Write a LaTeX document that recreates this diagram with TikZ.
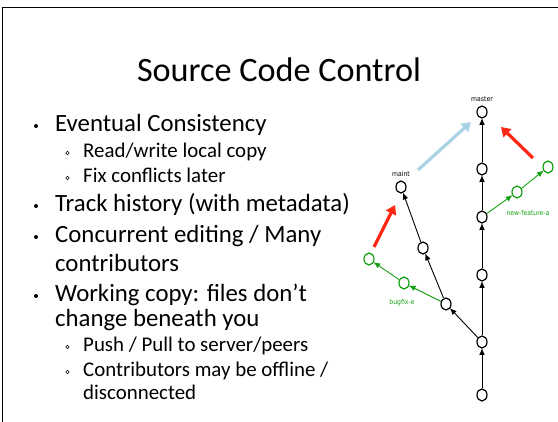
\documentclass[tikz,border=0pt]{standalone}
\usepackage{fontspec}
\setmainfont{Carlito}
\newfontfamily\labfont{DejaVu Sans Condensed}
\usetikzlibrary{arrows.meta,positioning,shapes.geometric}
\definecolor{gitgreen}{RGB}{20,160,20}
\definecolor{mergered}{RGB}{255,40,20}
\definecolor{pushblue}{RGB}{170,212,228}
\tikzset{
  >={Latex[length=2.4mm,width=2mm]},
  commit/.style={draw,ellipse,line width=1.2pt,minimum width=10pt,minimum height=12pt,inner sep=0pt,fill=white},
  gcommit/.style={commit,draw=gitgreen},
  hist/.style={->,line width=0.9pt,shorten >=-0.5pt},
  ghist/.style={hist,draw=gitgreen,-{Latex[length=2.4mm,width=2mm,color=gitgreen]}},
  fatarr/.style={line width=3.2pt,-{Triangle[length=9pt,width=11pt]}},
  lab/.style={font=\labfont\fontsize{6.8}{7}\selectfont,inner sep=0pt},
  main/.style={anchor=base west,inner sep=0pt,font=\fontsize{24.8}{26}\selectfont},
  sub/.style={anchor=base west,inner sep=0pt,font=\fontsize{20.9}{22}\selectfont},
}
\begin{document}
\begin{tikzpicture}[x=1pt,y=-1pt]
\useasboundingbox (0,0) rectangle (558,422);
% slide frame
\draw[line width=1.4pt] (2.7,422) -- (2.7,7.5) -- (558,7.5);
\node[font=\fontsize{34.2}{36}\selectfont] (title) at (279,70) {Source Code Control};
% bullet list
\node[main] (b1) at (55,132) {Eventual Consistency};
\node[sub] (b1a) at (83,158) {Read/write local copy};
\node[sub] (b1b) at (83,183) {Fix conflicts later};
\node[main] (b2) at (55,212) {Track history (with metadata)};
\node[main] (b3) at (55,243) {Concurrent editing / Many};
\node[main] (b3x) at (55,272) {contributors};
\node[main] (b4) at (55,302) {Working copy: files don’t};
\node[main] (b4x) at (55,327) {change beneath you};
\node[sub] (b4a) at (83,352) {Push / Pull to server/peers};
\node[sub] (b4b) at (83,377) {Contributors may be offline /};
\node[sub] (b4x) at (83,400) {disconnected};
\foreach \y in {126,206,237,296} \fill (36,\y) circle (2pt);
\foreach \y in {153,178,347,372} \draw[line width=0.5pt] (67.5,\y) circle (1.7pt);
% history graph
\node[commit] (m0) at (482,395) {};
\node[commit] (m1) at (482,342) {};
\node[commit] (m2) at (482,275) {};
\node[commit] (m3) at (482,217) {};
\node[commit] (m4) at (482,169) {};
\node[commit] (master) at (482,112) {};
\node[lab,above=4pt of master] (masterl) {master};
\node[commit] (br) at (446,304) {};
\node[commit] (c1) at (423,248) {};
\node[commit] (maint) at (401,187) {};
\node[lab,above=4pt of maint] (maintl) {maint};
\node[gcommit] (e1) at (404,283) {};
\node[gcommit] (e2) at (369,259) {};
\node[lab,text=gitgreen] (bugl) at (402,303) {bugfix-e};
\node[gcommit] (f1) at (517,192) {};
\node[gcommit] (f2) at (548,167) {};
\node[lab,text=gitgreen] (featl) at (528,213) {new-feature-a};
\draw[hist] (m0) -- (m1);
\draw[hist] (m1) -- (m2);
\draw[hist] (m2) -- (m3);
\draw[hist] (m3) -- (m4);
\draw[hist] (m4) -- (master);
\draw[hist] (m1) -- (br);
\draw[hist] (br) -- (c1);
\draw[hist] (c1) -- (maint);
\draw[ghist] (br) -- (e1);
\draw[ghist] (e1) -- (e2);
\draw[ghist] (m3) -- (f1);
\draw[ghist] (f1) -- (f2);
% merges
\coordinate (rs1) at (374,247); \coordinate (re1) at (395,205);
\coordinate (rs2) at (533,158); \coordinate (re2) at (501,127);
\coordinate (ps) at (418,170); \coordinate (pe) at (471,122);
\draw[fatarr,mergered] (rs1) -- (re1);
\draw[fatarr,mergered] (rs2) -- (re2);
\draw[fatarr,pushblue] (ps) -- (pe);
\end{tikzpicture}
\end{document}
